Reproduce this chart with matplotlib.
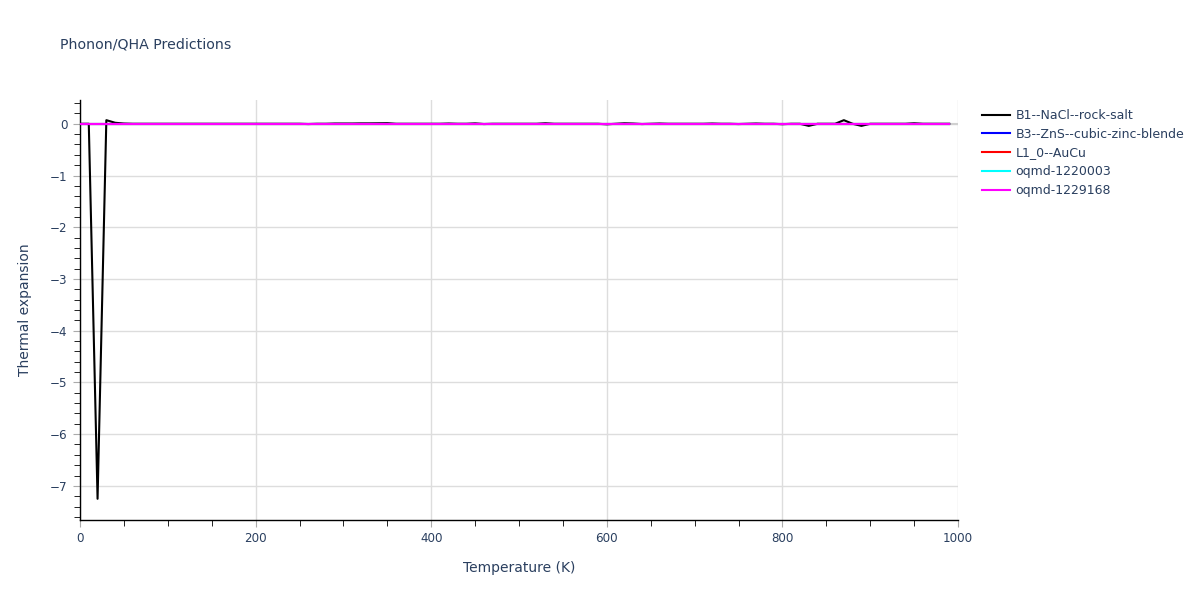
import numpy as np
import matplotlib
matplotlib.use("Agg")
import matplotlib.pyplot as plt
from matplotlib.ticker import MultipleLocator

plt.rcParams['font.family'] = ['DejaVu Sans']

# temperature grid (K)
temperature = np.arange(0, 1000, 10)

# thermal expansion
b1_nacl = [0.0, 0.0, -7.25, 0.07, 0.02, 0.005, 0.0, 0.0, 0.0, 0.0,
           0.0, 0.0, 0.0, 0.0, 0.0, 0.0, 0.0, 0.0, 0.0, 0.0,
           0.0, 0.0, 0.0, 0.0, 0.0, 0.0, -0.005, 0.0, 0.0, 0.005,
           0.005, 0.005, 0.008, 0.008, 0.01, 0.012, 0.0, 0.0, 0.0, 0.0,
           0.0, 0.0, 0.005, 0.0, 0.0, 0.008, -0.005, 0.0, 0.0, 0.0,
           0.0, 0.0, 0.0, 0.01, 0.0, 0.0, 0.0, 0.0, 0.0, 0.0,
           -0.01, 0.0, 0.01, 0.005, -0.005, 0.0, 0.005, 0.0, 0.0, 0.0,
           0.0, 0.0, 0.005, 0.0, 0.0, -0.005, 0.0, 0.005, 0.0, 0.0,
           -0.008, 0.0, 0.0, -0.04, 0.0, 0.0, 0.0, 0.07, 0.0, -0.04,
           0.0, 0.0, 0.0, 0.0, 0.0, 0.01, 0.0, 0.0, 0.0, 0.0]
b3_zns = [0.0, 0.0, 0.0, 0.0, 0.0, 0.0, 0.0, 0.0, 0.0, 0.0,
          0.0, 0.0, 0.0, 0.0, 0.0, 0.0, 0.0, 0.0, 0.0, 0.0,
          0.0, 0.0, 0.0, 0.0, 0.0, 0.0, 0.0, 0.0, 0.0, 0.0,
          0.0, 0.0, 0.0, 0.0, 0.0, 0.0, 0.0, 0.0, 0.0, 0.0,
          0.0, 0.0, 0.0, 0.0, 0.0, 0.0, 0.0, 0.0, 0.0, 0.0,
          0.0, 0.0, 0.0, 0.0, 0.0, 0.0, 0.0, 0.0, 0.0, 0.0,
          0.0, 0.0, 0.0, 0.0, 0.0, 0.0, 0.0, 0.0, 0.0, 0.0,
          0.0, 0.0, 0.0, 0.0, 0.0, 0.0, 0.0, 0.0, 0.0, 0.0,
          0.0, 0.0, 0.0, 0.0, 0.0, 0.0, 0.0, 0.0, 0.0, 0.0,
          0.0, 0.0, 0.0, 0.0, 0.0, 0.0, 0.0, 0.0, 0.0, 0.0]
l10_aucu = list(b3_zns)
oqmd_1220003 = list(b3_zns)
oqmd_1229168 = list(b3_zns)

series = [
    ("B1--NaCl--rock-salt", b1_nacl, "black"),
    ("B3--ZnS--cubic-zinc-blende", b3_zns, "blue"),
    ("L1_0--AuCu", l10_aucu, "red"),
    ("oqmd-1220003", oqmd_1220003, "cyan"),
    ("oqmd-1229168", oqmd_1229168, "magenta"),
]

txt = "#2a3f5f"

fig = plt.figure(figsize=(12, 6), dpi=100)
ax = fig.add_axes([80/1200, 1-520/600, 878/1200, 420/600])

for label, vals, col in series:
    ax.plot(temperature, vals, color=col, lw=1.5, label=label, zorder=3)

ax.axhline(0, color="#d0d0d0", lw=1.5, zorder=1)

ax.set_xlim(0, 1000)
ax.set_ylim(-7.66, 0.46)
ax.xaxis.set_major_locator(MultipleLocator(200))
ax.xaxis.set_minor_locator(MultipleLocator(50))
ax.yaxis.set_major_locator(MultipleLocator(1))
ax.yaxis.set_minor_locator(MultipleLocator(0.2))
ax.grid(True, which="major", color="#dddddd", lw=1)
ax.set_axisbelow(True)
for s in ["top", "right"]:
    ax.spines[s].set_visible(False)
for s in ["left", "bottom"]:
    ax.spines[s].set_color("black")
    ax.spines[s].set_linewidth(1)
ax.tick_params(which="major", length=5, color="#aaaaaa", labelsize=8.6,
               labelcolor=txt, pad=4)
ax.tick_params(which="minor", length=4, color="black")

ax.set_xlabel("Temperature (K)", fontsize=10, color=txt, labelpad=11)
ax.set_ylabel("Thermal expansion", fontsize=10, color=txt, labelpad=13)
fig.text(60/1200, 1-45/600, "Phonon/QHA Predictions", fontsize=10.2,
         color=txt, va="center", ha="left")

leg = fig.legend(loc="upper left", bbox_to_anchor=(977/1200, 1-104/600),
                 frameon=False, fontsize=9, handlelength=2.2,
                 handletextpad=0.5, labelspacing=0.46, borderaxespad=0)
for t in leg.get_texts():
    t.set_color(txt)

fig.savefig("out.png", dpi=100)
